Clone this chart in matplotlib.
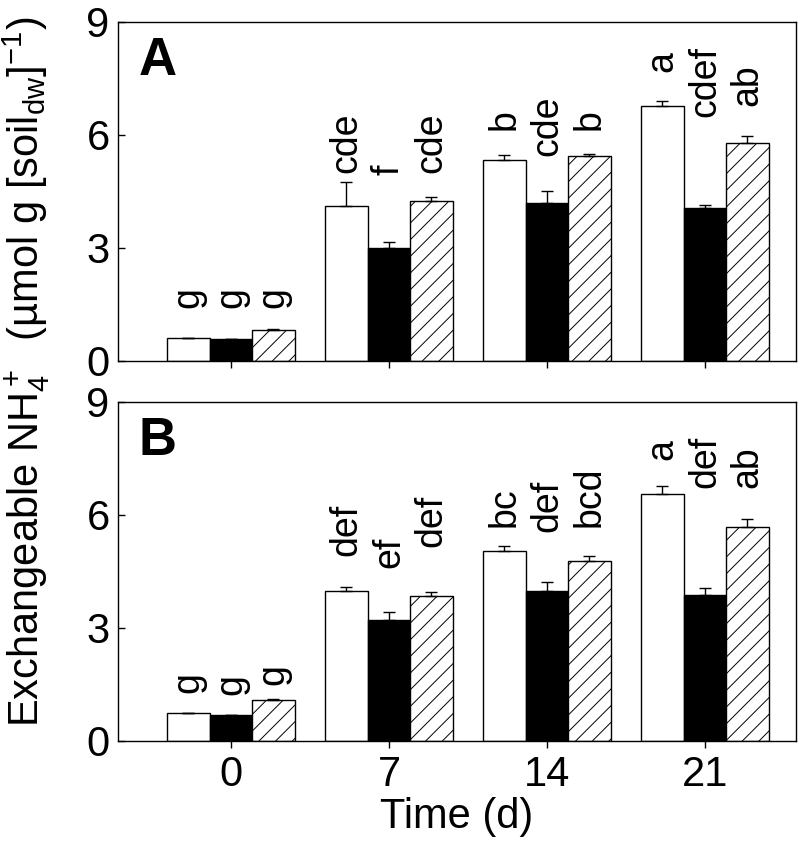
import numpy as np
import matplotlib
matplotlib.use("Agg")
import matplotlib.pyplot as plt

plt.rcParams['font.family'] = ['Liberation Sans', 'DejaVu Sans']
plt.rcParams['mathtext.fontset'] = 'custom'
plt.rcParams['mathtext.rm'] = 'Liberation Sans'
plt.rcParams['mathtext.it'] = 'Liberation Sans:italic'
plt.rcParams['hatch.linewidth'] = 0.7

days = ['0', '7', '14', '21']

# panel A
a_white = [0.61, 4.12, 5.32, 6.76]
a_white_err = [0.0, 0.62, 0.14, 0.14]
a_black = [0.59, 3.00, 4.20, 4.05]
a_black_err = [0.0, 0.16, 0.31, 0.08]
a_hatch = [0.82, 4.24, 5.43, 5.78]
a_hatch_err = [0.02, 0.12, 0.05, 0.20]
a_letters = [['g', 'g', 'g'], ['cde', 'f', 'cde'], ['b', 'cde', 'b'], ['a', 'cdef', 'ab']]
a_letter_y = [[1.40, 1.40, 1.40], [4.98, 4.93, 4.98], [6.13, 5.44, 6.13], [7.67, 6.48, 6.76]]

# panel B
b_white = [0.73, 3.97, 5.03, 6.54]
b_white_err = [0.0, 0.10, 0.15, 0.22]
b_black = [0.68, 3.21, 3.97, 3.88]
b_black_err = [0.0, 0.20, 0.24, 0.17]
b_hatch = [1.09, 3.85, 4.78, 5.68]
b_hatch_err = [0.03, 0.10, 0.13, 0.21]
b_letters = [['g', 'g', 'g'], ['def', 'ef', 'def'], ['bc', 'def', 'bcd'], ['a', 'def', 'ab']]
b_letter_y = [[1.26, 1.21, 1.48], [4.89, 4.58, 5.15], [5.68, 5.55, 5.68], [7.45, 6.70, 6.70]]

fig = plt.figure(figsize=(8, 8.44), dpi=100)
axA = fig.add_axes([0.1475, 0.5723, 0.8475, 0.402])
axB = fig.add_axes([0.1475, 0.1224, 0.8475, 0.4017])

x = np.arange(len(days))
w = 0.269


def draw(ax, white, werr, black, berr, hatch, herr, letters, letter_y, tag):
    ax.bar(x - w, white, w, color='white', edgecolor='black', linewidth=1)
    ax.bar(x, black, w, color='black', edgecolor='black', linewidth=1)
    ax.bar(x + w, hatch, w, color='white', edgecolor='black', linewidth=1, hatch='//')
    for off, vals, err in [(-w, white, werr), (0, black, berr), (w, hatch, herr)]:
        ax.errorbar(x + off, vals, yerr=[np.zeros(len(err)), err], fmt='none',
                    ecolor='black', elinewidth=1, capsize=4, capthick=1)
    for i in range(len(days)):
        for j, off in enumerate([-w, 0, w]):
            ax.text(x[i] + off, letter_y[i][j], letters[i][j], rotation=90,
                    ha='center', va='bottom', fontsize=27)
    ax.set_xlim(-0.715, 3.576)
    ax.set_ylim(0, 9)
    ax.set_yticks([0, 3, 6, 9])
    ax.set_xticks(x)
    ax.tick_params(axis='y', direction='in', length=5, width=1, labelsize=30, pad=6)
    ax.tick_params(axis='x', direction='out', length=5, width=1, labelsize=30, pad=5)
    for s in ax.spines.values():
        s.set_linewidth(1)
    ax.text(0.03, 0.81, tag, transform=ax.transAxes, fontsize=38, fontweight='bold',
            ha='left', va='bottom')


draw(axA, a_white, a_white_err, a_black, a_black_err, a_hatch, a_hatch_err,
     a_letters, a_letter_y, 'A')
draw(axB, b_white, b_white_err, b_black, b_black_err, b_hatch, b_hatch_err,
     b_letters, b_letter_y, 'B')

axA.set_xticklabels([])
axB.set_xticklabels(days)
axB.set_xlabel('Time (d)', fontsize=30, labelpad=2)

fig.text(0.032, 0.56,
         r'Exchangeable NH$_4^+$  (µmol g [soil$_{\mathrm{dw}}$]$^{\mathrm{-1}}$)',
         rotation=90, ha='center', va='center', fontsize=30)

fig.savefig('out.png', dpi=100)
